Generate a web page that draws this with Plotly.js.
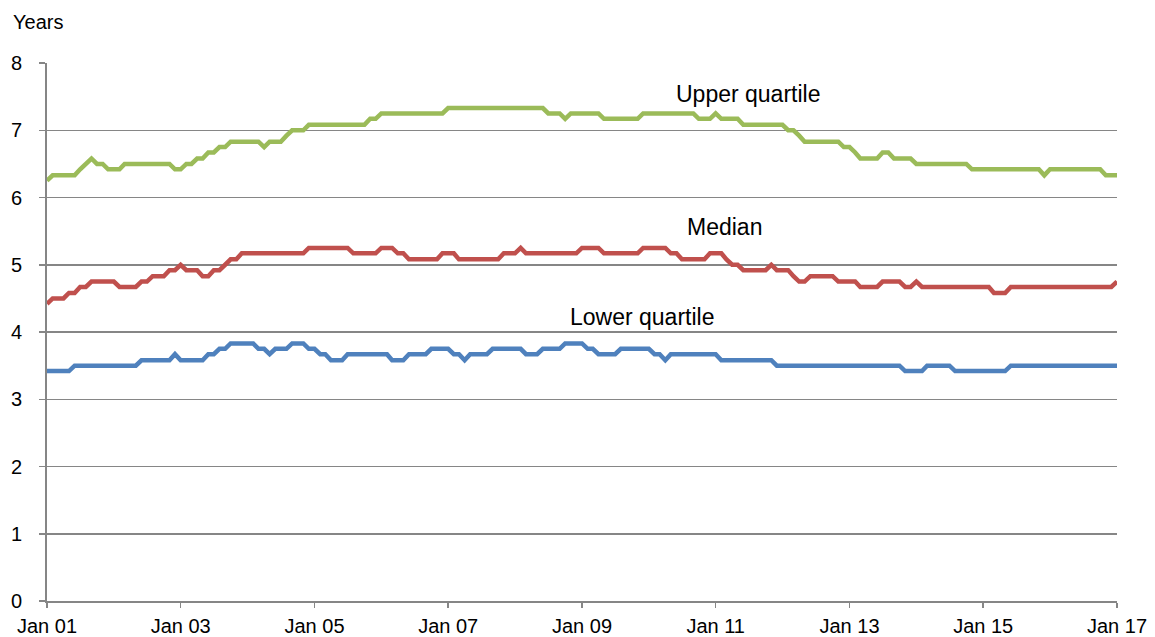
<!DOCTYPE html>
<html>
<head>
<meta charset="utf-8">
<script src="https://cdn.plot.ly/plotly-3.0.1.min.js"></script>
<style>
  html, body { margin: 0; padding: 0; background: #ffffff; }
  #chart { width: 1155px; height: 637px; }
</style>
</head>
<body>
<div id="chart"></div>
<script>
// Monthly series, Jan 2001 .. Jan 2017 (one row per year)
const upperQuartile = [
  6.25,6.33,6.33,6.33,6.33,6.33,6.42,6.5,6.58,6.5,6.5,6.42,
  6.42,6.42,6.5,6.5,6.5,6.5,6.5,6.5,6.5,6.5,6.5,6.42,
  6.42,6.5,6.5,6.58,6.58,6.67,6.67,6.75,6.75,6.83,6.83,6.83,
  6.83,6.83,6.83,6.75,6.83,6.83,6.83,6.92,7,7,7,7.08,
  7.08,7.08,7.08,7.08,7.08,7.08,7.08,7.08,7.08,7.08,7.17,7.17,
  7.25,7.25,7.25,7.25,7.25,7.25,7.25,7.25,7.25,7.25,7.25,7.25,
  7.33,7.33,7.33,7.33,7.33,7.33,7.33,7.33,7.33,7.33,7.33,7.33,
  7.33,7.33,7.33,7.33,7.33,7.33,7.25,7.25,7.25,7.17,7.25,7.25,
  7.25,7.25,7.25,7.25,7.17,7.17,7.17,7.17,7.17,7.17,7.17,7.25,
  7.25,7.25,7.25,7.25,7.25,7.25,7.25,7.25,7.25,7.17,7.17,7.17,
  7.25,7.17,7.17,7.17,7.17,7.08,7.08,7.08,7.08,7.08,7.08,7.08,
  7.08,7,7,6.92,6.83,6.83,6.83,6.83,6.83,6.83,6.83,6.75,
  6.75,6.67,6.58,6.58,6.58,6.58,6.67,6.67,6.58,6.58,6.58,6.58,
  6.5,6.5,6.5,6.5,6.5,6.5,6.5,6.5,6.5,6.5,6.42,6.42,
  6.42,6.42,6.42,6.42,6.42,6.42,6.42,6.42,6.42,6.42,6.42,6.33,
  6.42,6.42,6.42,6.42,6.42,6.42,6.42,6.42,6.42,6.42,6.33,6.33,
  6.33
];
const median = [
  4.42,4.5,4.5,4.5,4.58,4.58,4.67,4.67,4.75,4.75,4.75,4.75,
  4.75,4.67,4.67,4.67,4.67,4.75,4.75,4.83,4.83,4.83,4.92,4.92,
  5,4.92,4.92,4.92,4.83,4.83,4.92,4.92,5,5.08,5.08,5.17,
  5.17,5.17,5.17,5.17,5.17,5.17,5.17,5.17,5.17,5.17,5.17,5.25,
  5.25,5.25,5.25,5.25,5.25,5.25,5.25,5.17,5.17,5.17,5.17,5.17,
  5.25,5.25,5.25,5.17,5.17,5.08,5.08,5.08,5.08,5.08,5.08,5.17,
  5.17,5.17,5.08,5.08,5.08,5.08,5.08,5.08,5.08,5.08,5.17,5.17,
  5.17,5.25,5.17,5.17,5.17,5.17,5.17,5.17,5.17,5.17,5.17,5.17,
  5.25,5.25,5.25,5.25,5.17,5.17,5.17,5.17,5.17,5.17,5.17,5.25,
  5.25,5.25,5.25,5.25,5.17,5.17,5.08,5.08,5.08,5.08,5.08,5.17,
  5.17,5.17,5.08,5,5,4.92,4.92,4.92,4.92,4.92,5,4.92,
  4.92,4.92,4.83,4.75,4.75,4.83,4.83,4.83,4.83,4.83,4.75,4.75,
  4.75,4.75,4.67,4.67,4.67,4.67,4.75,4.75,4.75,4.75,4.67,4.67,
  4.75,4.67,4.67,4.67,4.67,4.67,4.67,4.67,4.67,4.67,4.67,4.67,
  4.67,4.67,4.58,4.58,4.58,4.67,4.67,4.67,4.67,4.67,4.67,4.67,
  4.67,4.67,4.67,4.67,4.67,4.67,4.67,4.67,4.67,4.67,4.67,4.67,
  4.75
];
const lowerQuartile = [
  3.42,3.42,3.42,3.42,3.42,3.5,3.5,3.5,3.5,3.5,3.5,3.5,
  3.5,3.5,3.5,3.5,3.5,3.58,3.58,3.58,3.58,3.58,3.58,3.67,
  3.58,3.58,3.58,3.58,3.58,3.67,3.67,3.75,3.75,3.83,3.83,3.83,
  3.83,3.83,3.75,3.75,3.67,3.75,3.75,3.75,3.83,3.83,3.83,3.75,
  3.75,3.67,3.67,3.58,3.58,3.58,3.67,3.67,3.67,3.67,3.67,3.67,
  3.67,3.67,3.58,3.58,3.58,3.67,3.67,3.67,3.67,3.75,3.75,3.75,
  3.75,3.67,3.67,3.58,3.67,3.67,3.67,3.67,3.75,3.75,3.75,3.75,
  3.75,3.75,3.67,3.67,3.67,3.75,3.75,3.75,3.75,3.83,3.83,3.83,
  3.83,3.75,3.75,3.67,3.67,3.67,3.67,3.75,3.75,3.75,3.75,3.75,
  3.75,3.67,3.67,3.58,3.67,3.67,3.67,3.67,3.67,3.67,3.67,3.67,
  3.67,3.58,3.58,3.58,3.58,3.58,3.58,3.58,3.58,3.58,3.58,3.5,
  3.5,3.5,3.5,3.5,3.5,3.5,3.5,3.5,3.5,3.5,3.5,3.5,
  3.5,3.5,3.5,3.5,3.5,3.5,3.5,3.5,3.5,3.5,3.42,3.42,
  3.42,3.42,3.5,3.5,3.5,3.5,3.5,3.42,3.42,3.42,3.42,3.42,
  3.42,3.42,3.42,3.42,3.42,3.5,3.5,3.5,3.5,3.5,3.5,3.5,
  3.5,3.5,3.5,3.5,3.5,3.5,3.5,3.5,3.5,3.5,3.5,3.5,
  3.5
];
const tickDates = ["2001-01-01","2003-01-01","2005-01-01","2007-01-01","2009-01-01","2011-01-01","2013-01-01","2015-01-01","2017-01-01"];
const tickLabels = ["Jan 01","Jan 03","Jan 05","Jan 07","Jan 09","Jan 11","Jan 13","Jan 15","Jan 17"];
const seriesNames = ["Upper quartile","Median","Lower quartile"];

// monthly date axis values
const months = [];
for (let i = 0; i < upperQuartile.length; i++) {
  const y = 2001 + Math.floor(i / 12);
  const m = (i % 12) + 1;
  months.push(y + "-" + (m < 10 ? "0" + m : m) + "-01");
}

const FONT = "Arial, 'Liberation Sans', sans-serif";
const GRID = "#868686";

const traces = [
  {x: months, y: lowerQuartile, name: seriesNames[2], mode: "lines", line: {color: "#4F81BD", width: 4.5}},
  {x: months, y: median, name: seriesNames[1], mode: "lines", line: {color: "#C0504D", width: 4.5}},
  {x: months, y: upperQuartile, name: seriesNames[0], mode: "lines", line: {color: "#9BBB59", width: 4.5}}
];

const layout = {
  width: 1155, height: 637,
  margin: {l: 47, r: 38, t: 63, b: 36},
  paper_bgcolor: "#ffffff", plot_bgcolor: "#ffffff",
  showlegend: false,
  font: {family: FONT, size: 20, color: "#000000"},
  xaxis: {
    type: "date",
    range: ["2001-01-01", "2017-01-01"],
    tickmode: "array", tickvals: tickDates, ticktext: tickLabels,
    showgrid: false, zeroline: false,
    showline: true, linecolor: GRID, linewidth: 2,
    ticks: "outside", ticklen: 5, tickwidth: 1.5, tickcolor: GRID,
    tickfont: {family: FONT, size: 20, color: "#000000"},
    ticklabelstandoff: 1
  },
  yaxis: {
    range: [0, 8], dtick: 1, tick0: 0,
    showgrid: true, gridcolor: GRID, gridwidth: 1.5,
    zeroline: false,
    showline: true, linecolor: GRID, linewidth: 2,
    ticks: "outside", ticklen: 6, tickwidth: 1.5, tickcolor: GRID,
    tickfont: {family: FONT, size: 20, color: "#000000"},
    ticklabelstandoff: 13
  },
  annotations: [
    {text: "Years", xref: "paper", yref: "paper", x: -0.0336, y: 1.0762, xanchor: "left", yanchor: "middle", showarrow: false, font: {family: FONT, size: 20, color: "#000000"}},
    {text: seriesNames[0], xref: "paper", yref: "paper", x: 0.6547, y: 0.9433, xanchor: "center", yanchor: "middle", showarrow: false, font: {family: FONT, size: 23, color: "#000000"}},
    {text: seriesNames[1], xref: "paper", yref: "paper", x: 0.6336, y: 0.6946, xanchor: "center", yanchor: "middle", showarrow: false, font: {family: FONT, size: 23, color: "#000000"}},
    {text: seriesNames[2], xref: "paper", yref: "paper", x: 0.5565, y: 0.5283, xanchor: "center", yanchor: "middle", showarrow: false, font: {family: FONT, size: 23, color: "#000000"}}
  ]
};

Plotly.newPlot("chart", traces, layout, {displayModeBar: false, staticPlot: true});
</script>
</body>
</html>
